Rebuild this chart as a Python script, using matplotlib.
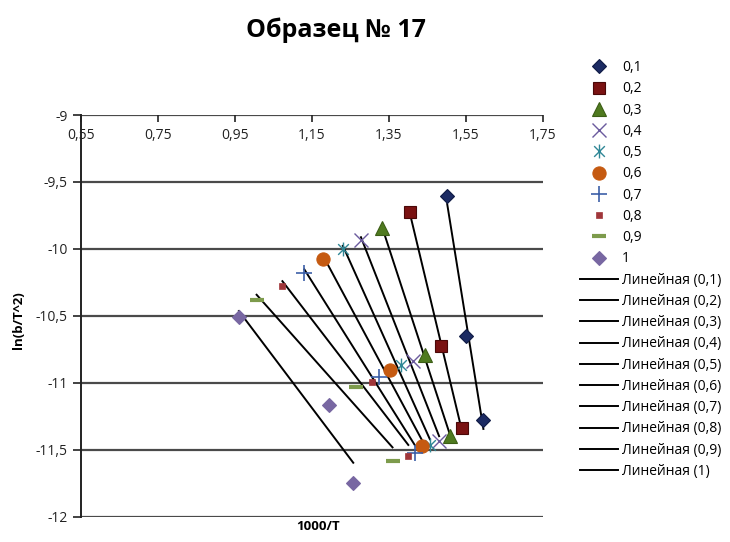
import numpy as np
import matplotlib
matplotlib.use("Agg")
import matplotlib.pyplot as plt
from matplotlib.path import Path

plt.rcParams['font.family'] = ['Open Sans', 'DejaVu Sans']

# степени превращения и точки для каждой из них
alpha = ["0,1", "0,2", "0,3", "0,4", "0,5", "0,6", "0,7", "0,8", "0,9", "1"]
inv_T = [
    [1.502, 1.550, 1.596],
    [1.405, 1.485, 1.540],
    [1.333, 1.444, 1.509],
    [1.278, 1.412, 1.481],
    [1.231, 1.381, 1.457],
    [1.180, 1.353, 1.436],
    [1.131, 1.326, 1.418],
    [1.074, 1.306, 1.401],
    [1.007, 1.265, 1.360],
    [0.961, 1.195, 1.258],
]
ln_bT2 = [
    [-9.604, -10.647, -11.281],
    [-9.722, -10.722, -11.338],
    [-9.846, -10.791, -11.401],
    [-9.933, -10.834, -11.438],
    [-10.000, -10.866, -11.468],
    [-10.077, -10.908, -11.475],
    [-10.181, -10.958, -11.525],
    [-10.274, -10.995, -11.545],
    [-10.381, -11.032, -11.587],
    [-10.505, -11.164, -11.749],
]
x_ticks = [0.55, 0.75, 0.95, 1.15, 1.35, 1.55, 1.75]
y_ticks = [-9, -9.5, -10, -10.5, -11, -11.5, -12]

# звездочка как в Excel: крест + вертикальная черта
star = Path([(-1, -1), (1, 1), (-1, 1), (1, -1), (0, -1.3), (0, 1.3)],
            [Path.MOVETO, Path.LINETO, Path.MOVETO, Path.LINETO, Path.MOVETO, Path.LINETO])

styles = [
    dict(marker='D', ms=7, mfc='#1c2b63', mec='#0f1a45', mew=0.8),
    dict(marker='s', ms=9, mfc='#7a1212', mec='#4a0808', mew=0.8),
    dict(marker='^', ms=9.5, mfc='#4f7a1f', mec='#3c5e16', mew=0.8),
    dict(marker='x', ms=10, mfc='none', mec='#6b5b9e', mew=1.0),
    dict(marker=star, ms=10, mfc='none', mec='#2f8796', mew=1.0),
    dict(marker='o', ms=9.5, mfc='#c55a11', mec='#c55a11', mew=0.8),
    dict(marker='+', ms=12, mfc='none', mec='#3d60a8', mew=1.2),
    dict(marker='s', ms=4, mfc='#a0363a', mec='#a0363a', mew=0.5),
    dict(marker='_', ms=10, mfc='none', mec='#7d9b4c', mew=3.0),
    dict(marker='D', ms=7.5, mfc='#7867a2', mec='#7867a2', mew=0.8),
]

fig = plt.figure(figsize=(7.3, 5.42), dpi=100)
ax = fig.add_axes([0.1105, 0.0467, 0.6329, 0.7411])

point_handles = []
line_handles = []
for i in range(len(alpha)):
    x = np.array(inv_T[i])
    y = np.array(ln_bT2[i])
    h, = ax.plot(x, y, linestyle='none', label=alpha[i], zorder=3, **styles[i])
    point_handles.append(h)
    k, b = np.polyfit(x, y, 1)
    xs = np.array([x.min(), x.max()])
    l, = ax.plot(xs, k * xs + b, color='black', lw=1.4, zorder=2,
                 label='Линейная (' + alpha[i] + ')')
    line_handles.append(l)

ax.set_xlim(0.55, 1.75)
ax.set_ylim(-12, -9)
ax.set_xticks(x_ticks)
ax.set_xticklabels([str(v).replace('.', ',') for v in x_ticks])
ax.set_yticks(y_ticks)
ax.set_yticklabels([('%g' % v).replace('.', ',') for v in y_ticks])

for v in y_ticks:
    ax.axhline(v, color='#4a4a4a', lw=1.6, zorder=1)

for s in ['right', 'bottom', 'top']:
    ax.spines[s].set_visible(False)
ax.spines['left'].set_linewidth(1.4)
ax.spines['left'].set_color('#222222')

ax.tick_params(axis='x', top=True, labeltop=True, bottom=False, labelbottom=False,
               direction='in', length=5, width=1.2, pad=-20, labelsize=10, colors='#222222')
ax.tick_params(axis='y', direction='out', length=6, width=1.2, labelsize=10, colors='#222222')

fig.text(0.435, 0.017, '1000/T', fontsize=9.5, fontweight='bold', ha='center', va='bottom')
fig.text(0.025, 0.41, 'ln(b/T^2)', fontsize=9.5, fontweight='bold', rotation=90,
         ha='center', va='center')
fig.text(0.46, 0.945, 'Образец № 17', fontsize=18, fontweight='bold', ha='center', va='center')

fig.legend(handles=point_handles + line_handles, loc='upper left',
           bbox_to_anchor=(0.795, 0.889), frameon=False, fontsize=10,
           borderpad=0, borderaxespad=0, handlelength=2.7, handletextpad=0.3,
           labelspacing=0.45)

fig.savefig('out.png', dpi=100)
